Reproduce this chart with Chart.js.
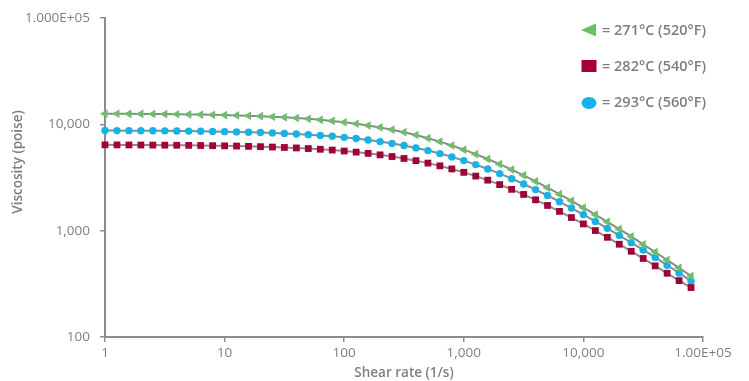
<!DOCTYPE html>
<html>
<head>
<meta charset="utf-8">
<script src="https://cdn.jsdelivr.net/npm/chart.js@4.4.1/dist/chart.umd.min.js"></script>
<style>
  html, body { margin: 0; padding: 0; background: #ffffff; }
  #wrap { position: relative; width: 749px; height: 381px; }
</style>
</head>
<body>
<div id="wrap"><canvas id="c" width="749" height="381"></canvas></div>
<script>
// ---- data ----
const shearRates = [
  1, 1.259, 1.585, 1.995, 2.512, 3.162, 3.981, 5.012, 6.31, 7.943,
  10, 12.59, 15.85, 19.95, 25.12, 31.62, 39.81, 50.12, 63.1, 79.43,
  100, 125.9, 158.5, 199.5, 251.2, 316.2, 398.1, 501.2, 631, 794.3,
  1000, 1259, 1585, 1995, 2512, 3162, 3981, 5012, 6310, 7943,
  10000, 12590, 15850, 19950, 25120, 31620, 39810, 50120, 63100, 79430
];
const visc271 = [
  12615, 12600, 12581, 12559, 12532, 12501, 12464, 12421, 12369, 12309,
  12238, 12155, 12057, 11943, 11810, 11657, 11479, 11275, 11041, 10775,
  10476, 10141, 9770, 9363, 8921, 8447, 7945, 7421, 6883, 6337,
  5790, 5251, 4728, 4228, 3756, 3316, 2911, 2541, 2208, 1911,
  1647, 1415, 1212, 1035, 883, 745, 630, 530, 447, 375
];
const visc282 = [
  6419, 6414, 6407, 6399, 6389, 6378, 6365, 6349, 6330, 6309,
  6283, 6252, 6217, 6175, 6126, 6069, 6003, 5926, 5837, 5735,
  5618, 5487, 5337, 5170, 4985, 4782, 4561, 4324, 4074, 3811,
  3540, 3264, 2988, 2715, 2449, 2194, 1953, 1728, 1520, 1330,
  1158, 1003, 867, 746, 640, 548, 467, 398, 339, 292
];
const visc293 = [
  8754, 8746, 8736, 8724, 8709, 8693, 8673, 8649, 8621, 8588,
  8549, 8504, 8450, 8387, 8314, 8228, 8129, 8013, 7881, 7729,
  7555, 7359, 7139, 6893, 6623, 6328, 6010, 5671, 5315, 4945,
  4567, 4188, 3811, 3443, 3089, 2752, 2437, 2144, 1877, 1634,
  1417, 1223, 1052, 903, 772, 659, 561, 473, 400, 336
];
const seriesLabels = ['= 271°C (520°F)', '= 282°C (540°F)', '= 293°C (560°F)'];
const xTickValues = [1, 10, 100, 1000, 10000, 100000];
const xTickLabels = ['1', '10', '100', '1,000', '10,000', '1.00E+05'];
const yTickValues = [100, 1000, 10000, 100000];
const yTickLabels = ['100', '1,000', '10,000', '1.000E+05'];
const xTitle = 'Shear rate (1/s)';
const yTitle = 'Viscosity (poise)';

// ---- styling ----
const GREEN = '#6dbf67';
const RED = '#a5003a';
const BLUE = '#11b5ea';
const LINE = '#8a8a8a';
const TEXT = '#7f7f7f';
const AXIS = '#8c8c8c';
const FONT = "'Open Sans', 'Noto Sans', sans-serif";

const pts = (ys) => shearRates.map((x, i) => ({ x: x, y: ys[i] }));

const legendPlugin = {
  id: 'insideLegend',
  afterDraw(chart) {
    const ctx = chart.ctx;
    const mx = 589, tx = 602;
    const rows = [30, 66, 102];
    ctx.save();
    // triangle pointing left
    ctx.fillStyle = GREEN;
    ctx.beginPath();
    ctx.moveTo(mx - 8, rows[0]);
    ctx.lineTo(mx + 7, rows[0] - 6.5);
    ctx.lineTo(mx + 7, rows[0] + 6.5);
    ctx.closePath();
    ctx.fill();
    // square
    ctx.fillStyle = RED;
    ctx.fillRect(mx - 7.5, rows[1] - 6, 15, 12);
    // ellipse
    ctx.fillStyle = BLUE;
    ctx.beginPath();
    ctx.ellipse(mx, rows[2] + 1, 7.5, 6, 0, 0, Math.PI * 2);
    ctx.fill();
    // labels
    ctx.fillStyle = TEXT;
    ctx.font = "600 14.5px " + FONT;
    ctx.textAlign = 'left';
    ctx.textBaseline = 'middle';
    chart.data.datasets.forEach((ds, i) => {
      ctx.fillText(ds.label, tx, rows[i] + 1);
    });
    // y axis title
    ctx.save();
    ctx.translate(18, 162);
    ctx.rotate(-Math.PI / 2);
    ctx.textAlign = 'center';
    ctx.textBaseline = 'middle';
    ctx.font = "600 13.5px " + FONT;
    ctx.fillText(yTitle, 0, 0);
    ctx.restore();
    ctx.restore();
  }
};

const common = {
  borderColor: LINE,
  borderWidth: 2,
  pointBorderWidth: 0,
  tension: 0,
  clip: false
};

new Chart(document.getElementById('c'), {
  type: 'line',
  data: {
    datasets: [
      Object.assign({}, common, {
        label: seriesLabels[0],
        data: pts(visc271),
        pointStyle: 'triangle',
        rotation: -90,
        pointRadius: 5,
        pointBackgroundColor: GREEN,
        pointBorderColor: GREEN
      }),
      Object.assign({}, common, {
        label: seriesLabels[1],
        data: pts(visc282),
        pointStyle: 'rect',
        pointRadius: 4.8,
        pointBackgroundColor: RED,
        pointBorderColor: RED
      }),
      Object.assign({}, common, {
        label: seriesLabels[2],
        data: pts(visc293),
        pointStyle: 'circle',
        pointRadius: 3.7,
        pointBackgroundColor: BLUE,
        pointBorderColor: BLUE
      })
    ]
  },
  options: {
    responsive: false,
    animation: false,
    devicePixelRatio: 1,
    layout: { padding: { left: 0, right: 46, top: 17, bottom: 0 } },
    plugins: {
      legend: { display: false },
      tooltip: { enabled: false }
    },
    scales: {
      x: {
        type: 'logarithmic',
        min: 1,
        max: 100000,
        afterBuildTicks: (s) => { s.ticks = xTickValues.map(v => ({ value: v })); },
        afterFit: (s) => { s.height = 44; },
        ticks: {
          color: TEXT,
          font: { family: FONT, size: 13.5 },
          padding: 3,
          maxRotation: 0,
          autoSkip: false,
          callback: (v) => { const i = xTickValues.indexOf(v); return i >= 0 ? xTickLabels[i] : ''; }
        },
        grid: { drawOnChartArea: false, drawTicks: true, tickLength: 5, color: AXIS, lineWidth: 1.5 },
        border: { display: true, color: AXIS, width: 2 },
        title: {
          display: true,
          text: xTitle,
          color: TEXT,
          font: { family: FONT, size: 13.5, weight: '600' },
          padding: { top: 0, bottom: 0 }
        }
      },
      y: {
        type: 'logarithmic',
        min: 100,
        max: 100000,
        afterBuildTicks: (s) => { s.ticks = yTickValues.map(v => ({ value: v })); },
        afterFit: (s) => { s.width = 105; },
        ticks: {
          color: TEXT,
          font: { family: FONT, size: 13.5 },
          padding: 10,
          autoSkip: false,
          callback: (v) => { const i = yTickValues.indexOf(v); return i >= 0 ? yTickLabels[i] : ''; }
        },
        grid: { drawOnChartArea: false, drawTicks: true, tickLength: 5, color: AXIS, lineWidth: 1.5 },
        border: { display: true, color: AXIS, width: 2 },
        title: { display: false }
      }
    }
  },
  plugins: [legendPlugin]
});
</script>
</body>
</html>
